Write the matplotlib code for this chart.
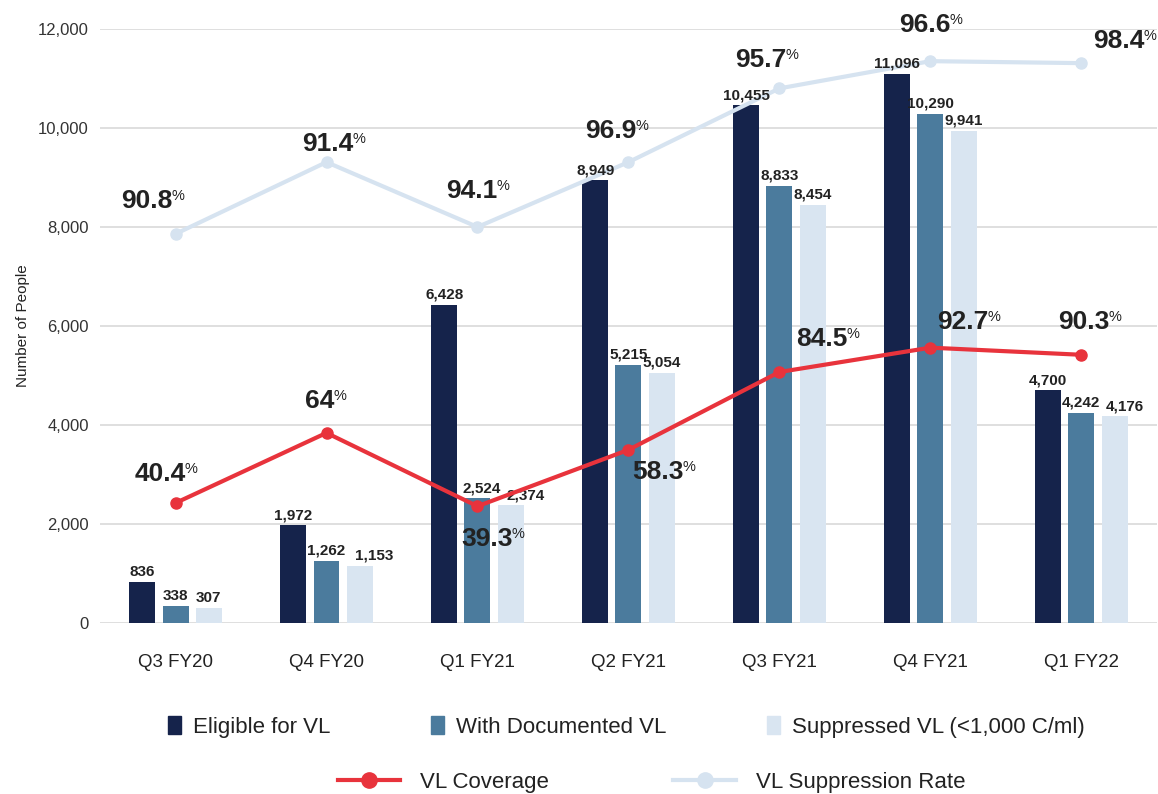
import numpy as np
import matplotlib
matplotlib.use("Agg")
import matplotlib.pyplot as plt
from matplotlib.lines import Line2D
from matplotlib.patches import Patch

plt.rcParams['font.family'] = ['Liberation Sans', 'DejaVu Sans']

quarters = ["Q3 FY20", "Q4 FY20", "Q1 FY21", "Q2 FY21", "Q3 FY21", "Q4 FY21", "Q1 FY22"]
eligible = [836, 1972, 6428, 8949, 10455, 11096, 4700]
documented = [338, 1262, 2524, 5215, 8833, 10290, 4242]
suppressed = [307, 1153, 2374, 5054, 8454, 9941, 4176]
coverage = [40.4, 64, 39.3, 58.3, 84.5, 92.7, 90.3]
suppression = [90.8, 91.4, 94.1, 96.9, 95.7, 96.6, 98.4]
# height where the suppression-rate line is drawn in the source (people axis)
suppression_line_level = [7860, 9310, 8000, 9310, 10800, 11350, 11310]

c_dark = "#15234b"
c_mid = "#4b7b9d"
c_light = "#d9e5f1"
c_red = "#e8333c"
c_line = "#d6e3f0"
c_text = "#222222"

fig = plt.figure(figsize=(11.58, 7.94), dpi=100)
ax = fig.add_axes([0.0864, 0.2154, 0.9126, 0.7481])
x = np.arange(len(quarters))
w = 0.172
off = 0.22

b1 = ax.bar(x - off, eligible, w, color=c_dark, zorder=2)
b2 = ax.bar(x, documented, w, color=c_mid, zorder=2)
b3 = ax.bar(x + off, suppressed, w, color=c_light, zorder=2)

# sideways nudges of some bar labels (pixels), keyed by (quarter, series)
nudge = {(2, 1): 4, (2, 2): 15, (1, 2): 14, (6, 2): 10}
for k, bars in enumerate([b1, b2, b3]):
    for i, b in enumerate(bars):
        ax.annotate(f"{int(b.get_height()):,}", (b.get_x() + b.get_width() / 2, b.get_height()),
                    xytext=(nudge.get((i, k), 0), 3), textcoords="offset pixels",
                    ha="center", va="bottom", fontsize=11, fontweight="bold",
                    color=c_text, zorder=5)

ax.set_xlim(-0.5, 6.5)
ax.set_ylim(0, 12000)
ax.set_yticks(range(0, 12001, 2000))
ax.set_yticklabels([f"{v:,}" for v in range(0, 12001, 2000)], fontsize=12, color="#333333")
ax.set_xticks(x)
ax.set_xticklabels(quarters, fontsize=13.5, color=c_text)
ax.tick_params(axis="both", length=0)
ax.tick_params(axis="x", pad=22)
ax.tick_params(axis="y", pad=8)
ax.grid(axis="y", color="#d9d9d9", linewidth=1.2, zorder=0)
ax.set_axisbelow(True)
for s in ax.spines.values():
    s.set_visible(False)
ax.set_ylabel("Number of People", fontsize=11, color=c_text, labelpad=6)

# suppression line on the people axis
ax.plot(x, suppression_line_level, color=c_line, linewidth=3, marker="o", markersize=8, zorder=3)

# coverage on a hidden percent axis
ax2 = ax.twinx()
ax2.set_ylim(0, 200)
ax2.axis("off")
ax2.plot(x, coverage, color=c_red, linewidth=3, marker="o", markersize=8, zorder=4)


def pct_label(axis, xi, yi, val, dx, dy):
    axis.annotate(f"{val:g}", (xi, yi), xytext=(dx, dy), textcoords="offset pixels",
                  ha="right", va="center", fontsize=19, fontweight="bold",
                  color=c_text, annotation_clip=False, zorder=6)
    axis.annotate("%", (xi, yi), xytext=(dx - 1, dy + 12), textcoords="offset pixels",
                  ha="left", va="top", fontsize=10.5, color=c_text,
                  annotation_clip=False, zorder=6)


sup_off = [(-3, 33), (27, 18), (20, 36), (8, 31), (7, 28), (20, 36), (63, 22)]
for i in range(len(x)):
    pct_label(ax, x[i], suppression_line_level[i], suppression[i], *sup_off[i])

cov_off = [(10, 29), (8, 32), (35, -33), (55, -22), (68, 33), (58, 26), (28, 33)]
for i in range(len(x)):
    pct_label(ax2, x[i], coverage[i], coverage[i], *cov_off[i])

h1 = [Patch(color=c_dark), Patch(color=c_mid), Patch(color=c_light)]
l1 = ["Eligible for VL", "With Documented VL", "Suppressed VL (<1,000 C/ml)"]
leg1 = fig.legend(h1, l1, loc="center", bbox_to_anchor=(0.541, 0.0844), ncol=3, frameon=False,
                  fontsize=16, handlelength=0.6, handleheight=0.9, handletextpad=0.55,
                  columnspacing=4.5)
for t in leg1.get_texts():
    t.set_color(c_text)

h2 = [Line2D([], [], color=c_red, linewidth=3, marker="o", markersize=11),
      Line2D([], [], color=c_line, linewidth=3, marker="o", markersize=11)]
l2 = ["VL Coverage", "VL Suppression Rate"]
leg2 = fig.legend(h2, l2, loc="center", bbox_to_anchor=(0.5626, 0.015), ncol=2, frameon=False,
                  fontsize=16, handlelength=2.8, handletextpad=0.9, columnspacing=5.6)
for t in leg2.get_texts():
    t.set_color(c_text)

fig.savefig("out.png", dpi=100)
